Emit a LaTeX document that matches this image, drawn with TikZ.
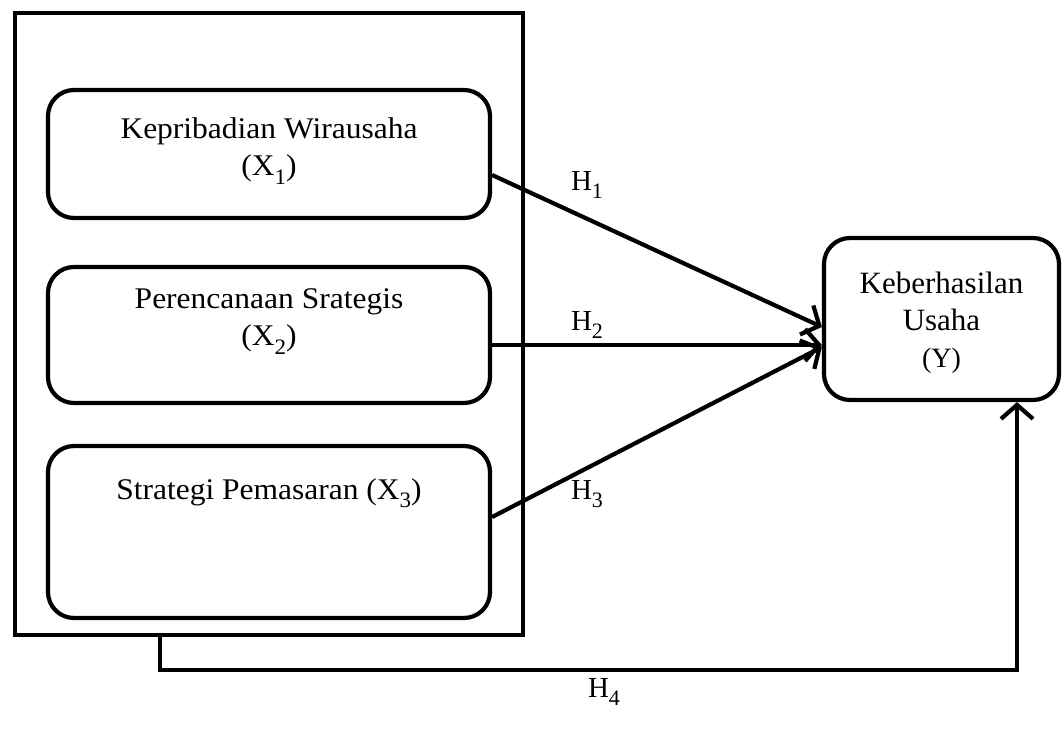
\documentclass[tikz,border=0pt]{standalone}
\usepackage{fontspec}
\setmainfont{Liberation Serif}
\usetikzlibrary{arrows.meta}
\newcommand{\mysub}[1]{\raisebox{-0.28em}{\fontsize{22}{22}\selectfont #1}}
\newcommand{\widetext}[2]{\scalebox{#1}[1]{\begin{tabular}{@{}c@{}}#2\end{tabular}}}
\begin{document}
\begin{tikzpicture}[x=1pt,y=-1pt,
  lw/.style={line width=4.2pt},
  varbox/.style={draw,lw,rounded corners=26pt,inner sep=0pt},
  lbl/.style={font=\fontsize{30}{37}\selectfont,align=center,inner sep=0pt},
  hlbl/.style={font=\fontsize{29}{34}\selectfont,inner sep=0pt},
  link/.style={lw,-{Straight Barb[length=14pt,width=32pt]}},
]
\useasboundingbox (0,0) rectangle (1062,731);
\node[draw,lw,minimum width=508pt,minimum height=622pt,inner sep=0pt] (outer) at (269,324) {};
\node[varbox,minimum width=442pt,minimum height=128pt] (b1) at (269,154) {};
\node[varbox,minimum width=442pt,minimum height=136pt] (b2) at (269,335) {};
\node[varbox,minimum width=442pt,minimum height=172pt] (b3) at (269,532) {};
\node[varbox,minimum width=235pt,minimum height=162pt] (Y) at (941.5,319) {};
\node[lbl] (t1) at ([yshift=-62pt]b1.north) {\widetext{1.05}{Kepribadian Wirausaha\\(X\mysub{1})}};
\node[lbl] (t2) at ([yshift=-55pt]b2.north) {\widetext{1.05}{Perencanaan Srategis\\(X\mysub{2})}};
\node[lbl] (t3) at ([yshift=-48pt]b3.north) {\widetext{1.05}{Strategi Pemasaran (X\mysub{3})}};
\node[lbl] (ty) at ([yshift=-4pt]Y.center) {\widetext{1.0}{\fontsize{31}{37}\selectfont Keberhasilan\\\fontsize{31}{37}\selectfont Usaha\\\fontsize{28}{34}\selectfont (Y)}};
\draw[link] ([yshift=-21pt]b1.east) -- ([yshift=-8pt]Y.west);
\draw[link] ([yshift=-10pt]b2.east) -- ([yshift=-26pt]Y.west);
\draw[link] ([yshift=15pt]b3.east) -- ([yshift=-28pt]Y.west);
\draw[link] ([xshift=-109pt]outer.south) -- ++(0,33) -| ([xshift=75.5pt]Y.south);
\node[hlbl] (h1) at (587,185) {H\mysub{1}};
\node[hlbl] (h2) at (587,325) {H\mysub{2}};
\node[hlbl] (h3) at (587,494) {H\mysub{3}};
\node[hlbl] (h4) at (604,692) {H\mysub{4}};
\end{tikzpicture}
\end{document}
